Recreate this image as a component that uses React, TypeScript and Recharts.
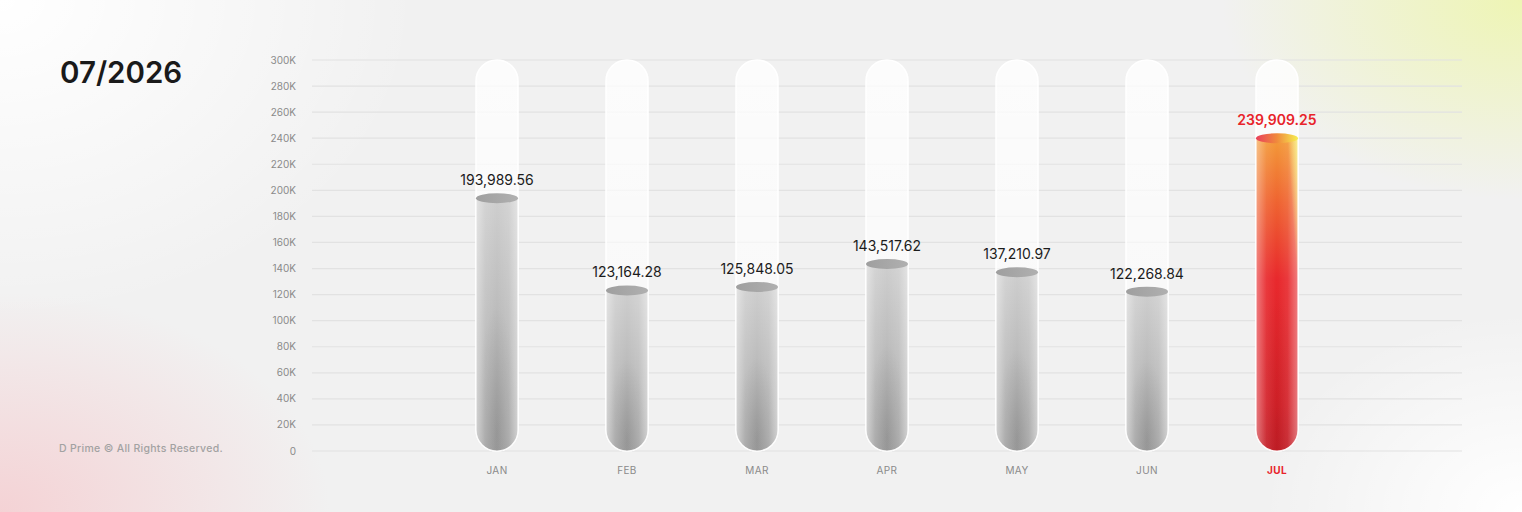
import React from 'react';
import { BarChart, Bar, XAxis, YAxis, CartesianGrid, LabelList } from 'recharts';

const months = ['JAN', 'FEB', 'MAR', 'APR', 'MAY', 'JUN', 'JUL'];
const values = [193989.56, 123164.28, 125848.05, 143517.62, 137210.97, 122268.84, 239909.25];
const yTicks = [0, 20000, 40000, 60000, 80000, 100000, 120000, 140000, 160000, 180000, 200000, 220000, 240000, 260000, 280000, 300000];
const highlightMonth = 'JUL';
const titleText = '07/2026';
const footerText = 'D Prime \u00A9 All Rights Reserved.';

const data = months.map((m, i) => ({ month: m, value: values[i] }));

const FONT = 'Inter, "Open Sans", "DejaVu Sans", sans-serif';
const RED = '#e8232a';

const fmtTick = (v: number) => (v === 0 ? '0' : `${v / 1000}K`);
const fmtVal = (v: number) =>
  v.toLocaleString('en-US', { minimumFractionDigits: 2, maximumFractionDigits: 2 });

const TubeBackground = (props: any) => {
  const { x, y, width: w, height: h } = props;
  if (w == null || h == null) return null;
  const r = w / 2;
  const d = `M${x},${y + r} A${r},${r} 0 0 1 ${x + w},${y + r} L${x + w},${y + h - r} A${r},${r} 0 0 1 ${x},${y + h - r} Z`;
  return <path d={d} fill="url(#tubeBg)" stroke="#ffffff" strokeWidth={1.5} />;
};

const TubeBar = (props: any) => {
  const { x, y, width: w, height: h, index } = props;
  if (!h || h <= 0) return null;
  const r = w / 2;
  const ry = 5;
  const hot = months[index] === highlightMonth;
  const d = `M${x},${y} L${x},${y + h - r} A${r},${r} 0 0 0 ${x + w},${y + h - r} L${x + w},${y} Z`;
  return (
    <g>
      <path d={d} fill={hot ? 'url(#hotV)' : 'url(#grayV)'} />
      {hot && <path d={d} fill="url(#hotYellow)" />}
      <path d={d} fill={hot ? 'url(#bottomShadeHot)' : 'url(#bottomShade)'} />
      <path d={d} fill={hot ? 'url(#edgeShineHot)' : 'url(#edgeShine)'} />
      <path d={d} fill="none" stroke="rgba(255,255,255,0.9)" strokeWidth={1.2} />
      <ellipse cx={x + r} cy={y} rx={r} ry={ry} fill={hot ? 'url(#hotCap)' : 'url(#grayCap)'} />
    </g>
  );
};

const renderLabel = (props: any) => {
  const { x, y, width: w, value, index } = props;
  const hot = months[index] === highlightMonth;
  return (
    <text
      x={x + w / 2}
      y={y - 13}
      textAnchor="middle"
      fontFamily={FONT}
      fontSize={14}
      fontWeight={hot ? 600 : 400}
      fill={hot ? RED : '#1c1c1c'}
    >
      {fmtVal(value)}
    </text>
  );
};

const renderXTick = (props: any) => {
  const { x, y, payload } = props;
  const hot = payload.value === highlightMonth;
  return (
    <text
      x={x}
      y={y}
      dy="0.71em"
      textAnchor="middle"
      fontFamily={FONT}
      fontSize={10}
      fontWeight={hot ? 700 : 400}
      letterSpacing={0.4}
      fill={hot ? RED : '#8a8a8a'}
    >
      {payload.value}
    </text>
  );
};

export default function App() {
  return (
    <div
      style={{
        position: 'absolute',
        left: 0,
        top: 0,
        width: 1522,
        height: 512,
        overflow: 'hidden',
        fontFamily: FONT,
        background:
          'radial-gradient(ellipse 420px 320px at 0px 0px, rgba(255,255,255,1), rgba(255,255,255,0) 100%),' +
          'radial-gradient(ellipse 330px 220px at 0px 512px, rgba(245,205,208,0.85), rgba(245,205,208,0) 100%),' +
          'radial-gradient(ellipse 300px 200px at 1522px 0px, rgba(238,245,180,1), rgba(238,245,180,0) 100%),' +
          'radial-gradient(ellipse 260px 200px at 1522px 512px, rgba(255,255,255,1), rgba(255,255,255,0) 100%),' +
          '#f1f1f1',
      }}
    >
      <svg width={0} height={0} style={{ position: 'absolute' }}>
        <defs>
          <linearGradient id="tubeBg" x1="0" y1="0" x2="0" y2="1">
            <stop offset="0%" stopColor="#ffffff" stopOpacity={0.8} />
            <stop offset="100%" stopColor="#ffffff" stopOpacity={0.45} />
          </linearGradient>
          <linearGradient id="grayV" x1="0" y1="0" x2="0" y2="1">
            <stop offset="0%" stopColor="#cecece" />
            <stop offset="60%" stopColor="#b6b6b6" />
            <stop offset="100%" stopColor="#a9a9a9" />
          </linearGradient>
          <linearGradient id="hotV" x1="0" y1="0" x2="0" y2="1">
            <stop offset="0%" stopColor="#f39a38" />
            <stop offset="20%" stopColor="#ef6430" />
            <stop offset="45%" stopColor="#e8282c" />
            <stop offset="85%" stopColor="#d9222a" />
            <stop offset="100%" stopColor="#c81f28" />
          </linearGradient>
          <linearGradient id="hotYellow" x1="1" y1="0" x2="0.8" y2="0.1">
            <stop offset="0%" stopColor="#f6ee4e" stopOpacity={0.95} />
            <stop offset="100%" stopColor="#f6ee4e" stopOpacity={0} />
          </linearGradient>
          <linearGradient id="edgeShine" x1="0" y1="0" x2="1" y2="0">
            <stop offset="0%" stopColor="#ffffff" stopOpacity={0.45} />
            <stop offset="22%" stopColor="#ffffff" stopOpacity={0.12} />
            <stop offset="50%" stopColor="#ffffff" stopOpacity={0} />
            <stop offset="78%" stopColor="#ffffff" stopOpacity={0.12} />
            <stop offset="100%" stopColor="#ffffff" stopOpacity={0.45} />
          </linearGradient>
          <linearGradient id="edgeShineHot" x1="0" y1="0" x2="1" y2="0">
            <stop offset="0%" stopColor="#ffffff" stopOpacity={0.4} />
            <stop offset="25%" stopColor="#ffffff" stopOpacity={0.08} />
            <stop offset="50%" stopColor="#ffffff" stopOpacity={0} />
            <stop offset="75%" stopColor="#ffffff" stopOpacity={0.08} />
            <stop offset="100%" stopColor="#ffffff" stopOpacity={0.4} />
          </linearGradient>
          <radialGradient id="bottomShade" cx="0.5" cy="0.93" r="0.5">
            <stop offset="0%" stopColor="#000000" stopOpacity={0.12} />
            <stop offset="100%" stopColor="#000000" stopOpacity={0} />
          </radialGradient>
          <radialGradient id="bottomShadeHot" cx="0.5" cy="0.93" r="0.45">
            <stop offset="0%" stopColor="#600000" stopOpacity={0.12} />
            <stop offset="100%" stopColor="#600000" stopOpacity={0} />
          </radialGradient>
          <linearGradient id="grayCap" x1="0" y1="0" x2="1" y2="0">
            <stop offset="0%" stopColor="#9f9f9f" />
            <stop offset="50%" stopColor="#a7a7a7" />
            <stop offset="100%" stopColor="#b0b0b0" />
          </linearGradient>
          <linearGradient id="hotCap" x1="0" y1="0" x2="1" y2="0">
            <stop offset="0%" stopColor="#e9405c" />
            <stop offset="50%" stopColor="#f08a3c" />
            <stop offset="100%" stopColor="#f6ef52" />
          </linearGradient>
        </defs>
      </svg>

      <div
        style={{
          position: 'absolute',
          left: 60,
          top: 52,
          fontSize: 29.5,
          fontWeight: 600,
          color: '#1a1a1a',
          lineHeight: '40px',
        }}
      >
        {titleText}
      </div>
      <div
        style={{
          position: 'absolute',
          left: 59,
          top: 441,
          fontSize: 10.5,
          fontWeight: 500,
          color: '#a2a2a2',
          letterSpacing: 0.3,
          lineHeight: '16px',
        }}
      >
        {footerText}
      </div>

      <div style={{ position: 'absolute', left: 0, top: 0 }}>
        <BarChart
          width={1522}
          height={512}
          data={data}
          margin={{ top: 60, right: 60, bottom: 31, left: 0 }}
          barSize={42}
        >
          <CartesianGrid vertical={false} stroke="#e2e2e2" strokeWidth={1.2} />
          <XAxis
            dataKey="month"
            axisLine={false}
            tickLine={false}
            tickSize={0}
            tickMargin={16}
            height={30}
            padding={{ left: 120, right: 120 }}
            tick={renderXTick}
            interval={0}
          />
          <YAxis
            width={312}
            domain={[0, 300000]}
            ticks={yTicks}
            interval={0}
            axisLine={false}
            tickLine={false}
            tickSize={0}
            tickMargin={16}
            tickFormatter={fmtTick}
            tick={{ fontSize: 10, fill: '#8a8a8a', fontFamily: FONT }}
          />
          <Bar
            dataKey="value"
            isAnimationActive={false}
            background={(p: any) => <TubeBackground key={`bg-${p.index}`} {...p} />}
            shape={(p: any) => <TubeBar {...p} />}
          >
            <LabelList dataKey="value" content={renderLabel} />
          </Bar>
        </BarChart>
      </div>
    </div>
  );
}
